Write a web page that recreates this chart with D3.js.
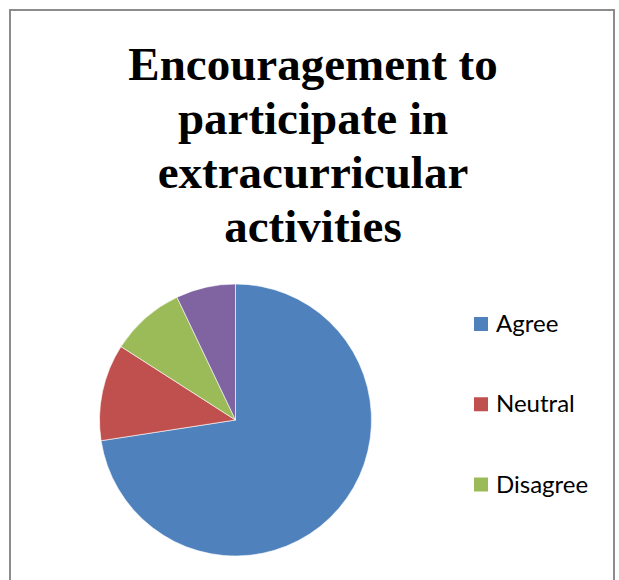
<!DOCTYPE html>
<html>
<head>
<meta charset="utf-8">
<script src="https://cdn.jsdelivr.net/npm/d3@7"></script>
<style>
  body { margin: 0; background: #fff; }
  svg { display: block; }
</style>
</head>
<body>
<div id="vis"></div>
<script>
// chart data
const categories = ['Agree', 'Neutral', 'Disagree', 'Strongly Disagree'];
const counts = [82, 13, 10, 8];
const colors = ['#4F81BD', '#C0504D', '#9BBB59', '#8064A2'];
const titleLines = ['Encouragement to', 'participate in', 'extracurricular', 'activities'];
// the legend box only has room for three entries, the last one is clipped
const legendCount = 3;

const width = 619;
const height = 580;

const svg = d3.select('#vis')
  .append('svg')
  .attr('width', width)
  .attr('height', height);

// chart area border (runs off the bottom of the picture)
svg.append('rect')
  .attr('x', 10)
  .attr('y', 10)
  .attr('width', 604)
  .attr('height', 640)
  .attr('fill', '#fff')
  .attr('stroke', '#8c8c8c')
  .attr('stroke-width', 2);

// title
svg.append('text')
  .attr('text-anchor', 'middle')
  .style('font-family', '"Liberation Serif", "Times New Roman", serif')
  .style('font-weight', 'bold')
  .style('font-size', '47px')
  .attr('fill', '#000')
  .selectAll('tspan')
  .data(titleLines)
  .enter().append('tspan')
  .attr('x', 313)
  .attr('y', (d, i) => 80 + i * 54)
  .text(d => d);

// pie
const center = { x: 235.5, y: 420 };
const radius = 136;

const pie = d3.pie().sort(null).value(d => d);
const arc = d3.arc().innerRadius(0).outerRadius(radius);

const colorScale = d3.scaleOrdinal()
  .domain(categories)
  .range(colors);

const g = svg.append('g')
  .attr('transform', 'translate(' + center.x + ',' + center.y + ')');

g.selectAll('path')
  .data(pie(counts))
  .enter().append('path')
  .attr('d', arc)
  .attr('fill', (d, i) => colorScale(categories[i]))
  .attr('stroke', '#fff')
  .attr('stroke-width', 0.6);

// legend
const legendY = d3.scalePoint()
  .domain(categories.slice(0, legendCount))
  .range([324, 484.5]);

const legend = svg.append('g')
  .selectAll('g')
  .data(categories.slice(0, legendCount))
  .enter().append('g')
  .attr('transform', d => 'translate(474,' + legendY(d) + ')');

legend.append('rect')
  .attr('x', 0)
  .attr('y', -7)
  .attr('width', 14)
  .attr('height', 14)
  .attr('fill', d => colorScale(d));

legend.append('text')
  .attr('x', 22)
  .attr('y', 8)
  .style('font-family', 'Lato, "Open Sans", sans-serif')
  .style('font-size', '24px')
  .attr('fill', '#000')
  .text(d => d);
</script>
</body>
</html>
